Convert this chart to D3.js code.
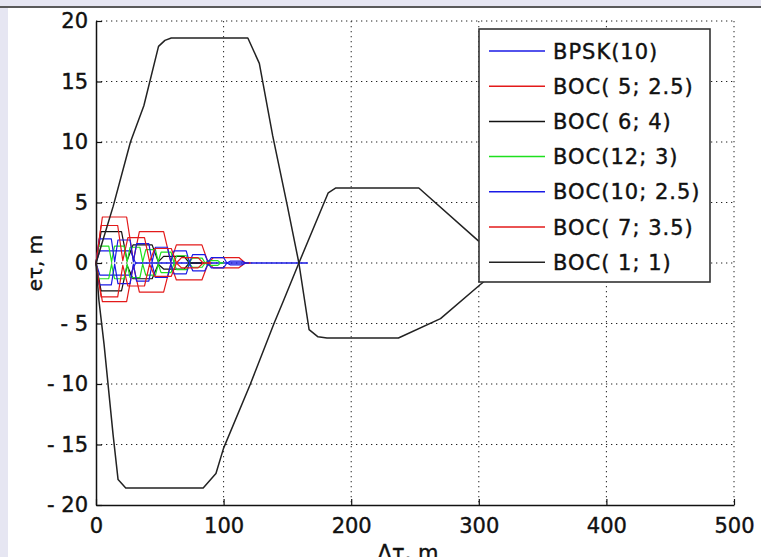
<!DOCTYPE html>
<html>
<head>
<meta charset="utf-8">
<script src="https://cdn.jsdelivr.net/npm/d3@7"></script>
<style>
    html, body { margin: 0; padding: 0; background: #e6e6f2; }
    svg { display: block; }
    text { font-family: "DejaVu Sans", sans-serif; fill: #111; }
</style>
</head>
<body>
<div id="chart"></div>
<script>
    // tick values
    var xTicks = [0, 100, 200, 300, 400, 500];
    var yTicks = [-20, -15, -10, -5, 0, 5, 10, 15, 20];

    // legend names (drawing order)
    var seriesNames = ["BPSK(10)", "BOC( 5; 2.5)", "BOC( 6; 4)", "BOC(12; 3)", "BOC(10; 2.5)", "BOC( 7; 3.5)", "BOC( 1; 1)"];
    var seriesColors = ["#1a1ae6", "#e31a1a", "#111111", "#1ee01e", "#1a1ae6", "#e31a1a", "#222222"];

    // BPSK(10)
    var bpskX = [0, 3, 27, 31, 166];
    var bpskUp = [0, 1.0, 1.0, 0, 0];
    var bpskLo = [0, -1.0, -1.0, 0, 0];

    // BOC(5; 2.5)
    var boc5X = [0, 5, 24, 29.3, 34, 53, 58.6, 63, 83, 88, 92, 112, 117, 121];
    var boc5Up = [0, 3.8, 3.8, 0.2, 2.6, 2.6, 0.1, 1.5, 1.5, 0, 0.45, 0.45, 0, 0];
    var boc5Lo = [0, -3.2, -3.2, -0.2, -2.4, -2.4, -0.1, -1.4, -1.4, 0, -0.4, -0.4, 0, 0];

    // BOC(6; 4)
    var boc6X = [0, 4, 20, 24.4, 29, 44, 48.8, 53, 69, 73.2, 85];
    var boc6Up = [0, 2.6, 2.6, 0.2, 1.5, 1.5, 0.1, 0.55, 0.55, 0, 0];
    var boc6Lo = [0, -2.3, -2.3, -0.2, -1.3, -1.3, -0.1, -0.5, -0.5, 0, 0];

    // BOC(12; 3)
    var boc12X = [0, 2, 10, 12.2, 14.5, 22, 24.4, 26.7, 34.4, 36.6, 39, 46.6, 48.8, 51, 58.8, 61, 63.3, 71, 73.3, 75.5, 83.2, 85.5, 87.7, 95.5, 97.7, 100];
    var boc12Up = [0, 1.4, 1.4, 0.1, 1.4, 1.4, 0.1, 1.3, 1.3, 0.1, 1.1, 1.1, 0.1, 0.9, 0.9, 0.05, 0.6, 0.6, 0.05, 0.4, 0.4, 0, 0.2, 0.2, 0, 0];
    var boc12Lo = [0, -1.3, -1.3, -0.1, -1.3, -1.3, -0.1, -1.2, -1.2, -0.1, -1.0, -1.0, -0.1, -0.8, -0.8, -0.05, -0.55, -0.55, -0.05, -0.35, -0.35, 0, -0.2, -0.2, 0, 0];

    // BOC(10; 2.5)
    var boc10X = [0, 2.5, 12, 14.65, 17.2, 26.7, 29.3, 31.8, 41.4, 44, 46.5, 56, 58.6, 61.1, 70.7, 73.3, 75.8, 85.3, 87.9, 90.4, 100, 102.6, 105.1, 114.6, 117.2, 120];
    var boc10Up = [0, 2.0, 2.0, 0.1, 1.9, 1.9, 0.1, 1.6, 1.6, 0.1, 1.3, 1.3, 0.1, 1.0, 1.0, 0.05, 0.7, 0.7, 0.05, 0.45, 0.45, 0, 0.15, 0.15, 0, 0];
    var boc10Lo = [0, -1.8, -1.8, -0.1, -1.7, -1.7, -0.1, -1.5, -1.5, -0.1, -1.2, -1.2, -0.1, -0.9, -0.9, -0.05, -0.65, -0.65, -0.05, -0.4, -0.4, 0, -0.15, -0.15, 0, 0];

    // BOC(7; 3.5)
    var boc7X = [0, 4, 17, 21, 25, 38, 42, 46, 59, 63, 67, 80, 84, 90];
    var boc7Up = [0, 3.1, 3.1, 0.2, 2.1, 2.1, 0.1, 1.2, 1.2, 0, 0.45, 0.45, 0, 0];
    var boc7Lo = [0, -2.8, -2.8, -0.2, -1.9, -1.9, -0.1, -1.1, -1.1, 0, -0.4, -0.4, 0, 0];

    // BOC(1; 1): in-phase and anti-phase envelopes
    var boc1UpX = [0, 13.5, 27, 37.5, 49, 54, 59, 119, 128, 138.5, 150, 159, 167, 174, 181, 237, 270, 301, 322];
    var boc1Up = [0, 4.7, 10, 13, 17.9, 18.4, 18.6, 18.6, 16.5, 10.5, 4.7, 0, -5.5, -6.1, -6.2, -6.2, -4.6, -1.8, 0];
    var boc1LoX = [0, 2.3, 6.3, 13.4, 17.3, 23.3, 84, 94, 100, 121, 139.5, 147, 159, 182, 188, 253, 301, 322];
    var boc1Lo = [0, -3.1, -6.7, -14.2, -17.9, -18.6, -18.6, -17.4, -15.3, -10, -5, -3.1, 0, 5.8, 6.2, 6.2, 1.7, 0];

    var series = [
        { x: [bpskX, bpskX], y: [bpskUp, bpskLo] },
        { x: [boc5X, boc5X], y: [boc5Up, boc5Lo] },
        { x: [boc6X, boc6X], y: [boc6Up, boc6Lo] },
        { x: [boc12X, boc12X], y: [boc12Up, boc12Lo] },
        { x: [boc10X, boc10X], y: [boc10Up, boc10Lo] },
        { x: [boc7X, boc7X], y: [boc7Up, boc7Lo] },
        { x: [boc1UpX, boc1LoX], y: [boc1Up, boc1Lo] }
    ];

    var W = 761, H = 557;
    var plot = { left: 96, right: 734, top: 21, bottom: 505 };

    var svg = d3.select("#chart").append("svg")
        .attr("width", W)
        .attr("height", H);

    // window frame
    svg.append("rect").attr("x", 0).attr("y", 0).attr("width", W).attr("height", H).attr("fill", "#e6e6f2");
    svg.append("rect").attr("x", 8).attr("y", 8).attr("width", W - 8).attr("height", H - 8).attr("fill", "#ffffff");
    svg.append("line").attr("x1", 0).attr("x2", W).attr("y1", 7).attr("y2", 7)
        .attr("stroke", "#5a5a5a").attr("stroke-width", 2);

    var xScale = d3.scaleLinear().domain([0, 500]).range([plot.left, plot.right]);
    var yScale = d3.scaleLinear().domain([-20, 20]).range([plot.bottom, plot.top]);

    // Grid
    var grid = svg.append("g").attr("class", "grid")
        .attr("stroke", "#222").attr("stroke-width", 1).attr("stroke-dasharray", "1.3,3.7");
    grid.selectAll(".gx").data(xTicks.filter(function(d) { return d > 0; }))
        .enter().append("line")
        .attr("x1", function(d) { return xScale(d); }).attr("x2", function(d) { return xScale(d); })
        .attr("y1", plot.top).attr("y2", plot.bottom);
    grid.selectAll(".gy").data(yTicks.filter(function(d) { return d > -20; }))
        .enter().append("line")
        .attr("y1", function(d) { return yScale(d); }).attr("y2", function(d) { return yScale(d); })
        .attr("x1", plot.left).attr("x2", plot.right);

    // Axes
    var xAxis = d3.axisBottom(xScale).tickValues(xTicks).tickSizeInner(-6).tickSizeOuter(0).tickPadding(12);
    var yAxis = d3.axisLeft(yScale).tickValues(yTicks).tickSizeInner(-6).tickSizeOuter(0).tickPadding(8)
        .tickFormat(function(d) { return d < 0 ? "- " + Math.abs(d) : d; });

    var gx = svg.append("g").attr("transform", "translate(0," + plot.bottom + ")").call(xAxis);
    var gy = svg.append("g").attr("transform", "translate(" + plot.left + ",0)").call(yAxis);
    [gx, gy].forEach(function(g) {
        g.select(".domain").attr("stroke", "#111").attr("stroke-width", 1.5);
        g.selectAll(".tick line").attr("stroke", "#111").attr("stroke-width", 1.2);
        g.selectAll(".tick text").style("font-family", "DejaVu Sans, sans-serif")
            .style("font-size", "21px").attr("fill", "#111")
            .attr("stroke", "#111").attr("stroke-width", 0.4);
    });
    gx.selectAll(".tick text").attr("dy", "0.75em");

    // Curves
    var line = d3.line()
        .x(function(d) { return xScale(d[0]); })
        .y(function(d) { return yScale(d[1]); });

    var curves = svg.append("g").attr("fill", "none");
    series.forEach(function(s, i) {
        for (var k = 0; k < 2; k++) {
            var pts = s.x[k].map(function(x, j) { return [x, s.y[k][j]]; });
            curves.append("path")
                .datum(pts)
                .attr("stroke", seriesColors[i])
                .attr("stroke-width", i === 6 ? 1.5 : 1.2)
                .attr("stroke-linejoin", "round")
                .attr("d", line);
        }
    });

    // Legend
    var legend = svg.append("g");
    legend.append("rect")
        .attr("x", 479).attr("y", 29).attr("width", 231).attr("height", 253)
        .attr("fill", "#fff").attr("stroke", "#333").attr("stroke-width", 1.6);
    var rows = legend.selectAll(".row").data(seriesNames)
        .enter().append("g")
        .attr("transform", function(d, i) { return "translate(0," + (51 + 35.2 * i) + ")"; });
    rows.append("line")
        .attr("x1", 489).attr("x2", 545).attr("y1", 0).attr("y2", 0)
        .attr("stroke", function(d, i) { return seriesColors[i]; })
        .attr("stroke-width", 1.5);
    rows.append("text")
        .attr("x", 553).attr("y", 0).attr("dy", "0.36em")
        .style("font-size", "21px")
        .style("letter-spacing", "1px")
        .attr("stroke", "#111").attr("stroke-width", 0.4)
        .text(function(d) { return d; });

    // Axis labels
    svg.append("text")
        .attr("transform", "translate(42," + yScale(0) + ") rotate(-90)")
        .attr("text-anchor", "middle")
        .style("font-size", "20px")
        .attr("stroke", "#111").attr("stroke-width", 0.4)
        .text("eτ, m");
    svg.append("text")
        .attr("x", 408).attr("y", 560)
        .attr("text-anchor", "middle")
        .style("font-size", "21px")
        .attr("stroke", "#111").attr("stroke-width", 0.4)
        .text("Δτ, m");
</script>
</body>
</html>
